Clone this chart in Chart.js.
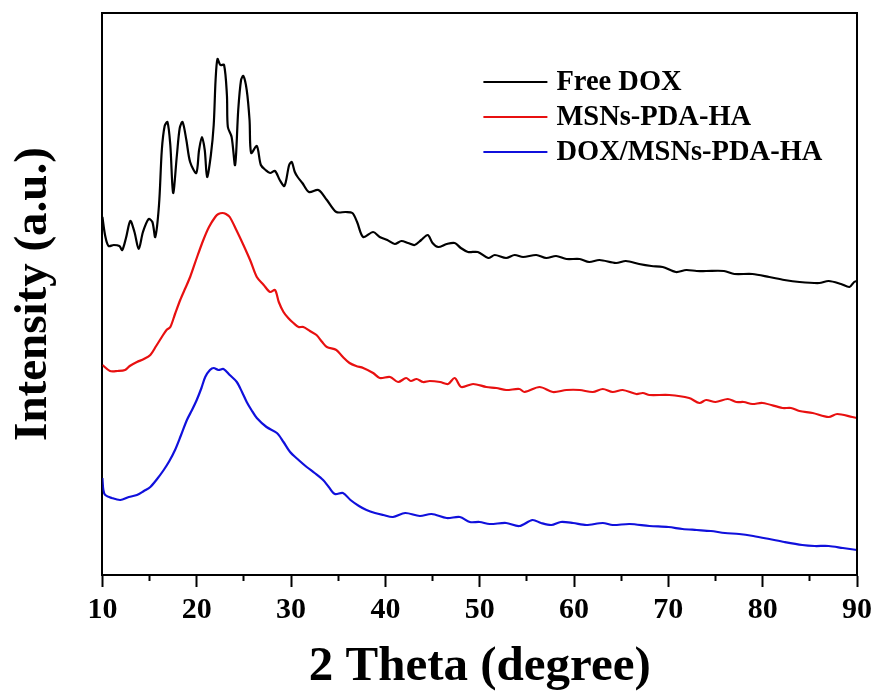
<!DOCTYPE html>
<html>
<head>
<meta charset="utf-8">
<script src="https://cdn.jsdelivr.net/npm/chart.js@4/dist/chart.umd.min.js"></script>
<style>
  html, body { margin: 0; padding: 0; background: #fff; }
  #wrap { width: 877px; height: 695px; }
</style>
</head>
<body>
<div id="wrap"><canvas id="xrd"></canvas></div>
<script>
// Free DOX
const freeDoxTheta = [10.0, 10.3, 10.65, 11.2, 11.8, 12.1, 12.5, 12.96, 13.4, 13.85, 14.3, 14.9, 15.3, 15.6, 16.0, 16.3, 16.6, 16.9, 17.2, 17.5, 17.9, 18.2, 18.5, 18.9, 19.3, 19.95, 20.25, 20.55, 20.85, 21.1, 21.5, 21.8, 22.0, 22.2, 22.5, 22.9, 23.2, 23.3, 23.7, 24.07, 24.4, 24.7, 24.95, 25.3, 25.6, 25.77, 26.37, 26.8, 27.3, 27.78, 28.3, 28.8, 29.3, 29.8, 30.07, 30.4, 30.7, 31.2, 31.9, 32.9, 33.8, 34.8, 35.8, 36.5, 37.0, 37.65, 38.7, 39.4, 40.2, 41.0, 41.7, 42.4, 43.1, 43.8, 44.5, 45.0, 45.6, 46.5, 47.35, 48.0, 48.76, 49.8, 50.9, 51.6, 52.8, 53.7, 54.6, 56.0, 57.05, 58.1, 59.2, 60.6, 61.6, 62.7, 64.45, 65.5, 66.9, 68.2, 69.4, 70.8, 71.9, 73.0, 74.0, 75.9, 77.0, 78.9, 80.7, 82.3, 83.9, 86.0, 87.0, 88.3, 89.2, 89.7, 90.0];
const freeDoxInt = [358, 339, 329, 330, 329, 325, 337, 354, 343, 326, 343, 356, 353, 338, 370, 425, 449, 453, 430, 382, 420, 447, 453, 435, 413, 402, 425, 438, 425, 398, 420, 450, 495, 516, 510, 510, 480, 448, 438, 410, 465, 495, 499, 485, 455, 422, 429, 410, 405, 402, 404, 395, 389, 410, 413, 403, 398, 392, 383, 385, 375, 363, 363, 362, 353, 338, 343, 338, 335, 331, 334, 332, 330, 335, 340, 332, 328, 331, 332, 327, 323, 323, 317, 320, 317, 320, 318, 320, 317, 319, 316, 316, 313, 315, 312, 314, 311, 309, 308, 303, 305, 304, 304, 304, 301, 301, 298, 295, 293, 292, 294, 291, 288, 293, 294];

// MSNs-PDA-HA
const msnTheta = [10.0, 10.8, 11.6, 12.4, 12.9, 13.66, 14.4, 15.08, 15.7, 16.3, 16.8, 17.2, 17.7, 18.25, 18.8, 19.3, 20.0, 20.7, 21.3, 21.96, 22.3, 22.73, 23.1, 23.5, 24.2, 24.95, 25.7, 26.37, 27.1, 27.78, 28.3, 28.7, 29.2, 29.7, 30.25, 30.8, 31.3, 32.0, 32.7, 33.3, 33.8, 34.8, 35.5, 36.2, 36.9, 37.65, 38.7, 39.4, 40.5, 41.35, 42.2, 42.7, 43.3, 44.0, 44.7, 45.8, 46.65, 47.35, 48.05, 49.3, 50.7, 51.76, 52.8, 54.2, 54.76, 56.35, 57.76, 59.2, 60.6, 62.0, 63.05, 64.1, 65.16, 66.6, 67.3, 68.0, 70.1, 72.2, 73.3, 74.0, 75.0, 76.3, 77.2, 78.0, 78.9, 80.0, 82.1, 83.0, 83.9, 85.3, 87.0, 87.9, 89.5, 90.0];
const msnInt = [210, 204, 204, 205, 209, 213, 216, 220, 229, 238, 245, 248, 261, 275, 287, 298, 317, 335, 348, 358, 361, 362, 361, 358, 345, 330, 314, 298, 290, 283, 285, 273, 263, 257, 252, 248, 248, 244, 240, 233, 228, 225, 218, 212, 209, 207, 202, 197, 198, 193, 197, 194, 196, 193, 194, 193, 191, 197, 188, 191, 188, 187, 185, 186, 183, 188, 183, 185, 185, 183, 186, 183, 185, 181, 182, 180, 180, 177, 172, 175, 173, 176, 173, 173, 171, 172, 167, 167, 164, 162, 158, 161, 158, 157];

// DOX/MSNs-PDA-HA
const loadedTheta = [10.0, 10.1, 10.3, 11.0, 11.9, 12.8, 13.66, 14.4, 15.08, 15.8, 16.5, 17.1, 17.7, 18.3, 18.96, 19.5, 20.0, 20.5, 20.9, 21.4, 21.8, 22.3, 22.84, 23.5, 24.25, 24.8, 25.3, 25.8, 26.37, 27.4, 28.5, 29.2, 29.9, 30.8, 31.66, 32.5, 33.4, 34.0, 34.65, 35.5, 36.3, 37.2, 38.0, 38.9, 39.77, 40.8, 42.1, 43.65, 44.9, 46.5, 47.9, 48.95, 50.0, 51.06, 52.8, 54.2, 55.6, 56.5, 57.6, 58.6, 59.9, 61.3, 63.05, 64.1, 65.9, 68.0, 70.0, 71.5, 73.0, 74.5, 76.0, 77.5, 79.0, 80.7, 82.3, 84.2, 85.5, 87.0, 88.5, 90.0];
const loadedInt = [97, 85, 80, 77, 75, 78, 80, 84, 88, 96, 105, 114, 125, 139, 155, 165, 175, 187, 198, 205, 207, 205, 206, 200, 193, 183, 173, 165, 157, 148, 142, 133, 123, 115, 108, 102, 95, 88, 81, 82, 75, 69, 65, 62, 60, 58, 62, 59, 61, 57, 58, 53, 53, 51, 52, 49, 55, 52, 50, 53, 52, 50, 52, 50, 51, 49, 48, 46, 45, 44, 42, 41, 39, 36, 33, 30, 29, 29, 27, 25];

const seriesNames = ['Free DOX', 'MSNs-PDA-HA', 'DOX/MSNs-PDA-HA'];
const seriesColors = ['#000000', '#e81010', '#1010dc'];

const toPoints = (xs, ys) => xs.map((x, i) => ({ x: x, y: ys[i] }));

const serif = '"Liberation Serif", "Times New Roman", serif';

// frame on top and right side of the plot
const framePlugin = {
  id: 'frame',
  afterDraw(chart) {
    const { ctx, chartArea: a } = chart;
    ctx.save();
    ctx.strokeStyle = '#000';
    ctx.lineWidth = 2;
    ctx.beginPath();
    ctx.moveTo(a.left, a.top);
    ctx.lineTo(a.right, a.top);
    ctx.lineTo(a.right, a.bottom);
    ctx.stroke();
    ctx.restore();
  }
};

// legend drawn inside the plot, top right
const insideLegend = {
  id: 'insideLegend',
  afterDraw(chart) {
    const { ctx, chartArea: a } = chart;
    const x0 = a.left + 381, y0 = a.top + 69, gap = 35;
    ctx.save();
    ctx.font = 'bold 28.5px ' + serif;
    ctx.textBaseline = 'middle';
    ctx.fillStyle = '#000';
    chart.data.datasets.forEach((ds, i) => {
      const y = y0 + i * gap;
      ctx.strokeStyle = ds.borderColor;
      ctx.lineWidth = 2;
      ctx.beginPath();
      ctx.moveTo(x0, y);
      ctx.lineTo(x0 + 64, y);
      ctx.stroke();
      ctx.fillText(ds.label, x0 + 73, y + 1);
    });
    ctx.restore();
  }
};

new Chart(document.getElementById('xrd'), {
  type: 'line',
  data: {
    datasets: [
      { label: seriesNames[0], data: toPoints(freeDoxTheta, freeDoxInt), borderColor: seriesColors[0] },
      { label: seriesNames[1], data: toPoints(msnTheta, msnInt), borderColor: seriesColors[1] },
      { label: seriesNames[2], data: toPoints(loadedTheta, loadedInt), borderColor: seriesColors[2] }
    ]
  },
  options: {
    responsive: true,
    maintainAspectRatio: false,
    animation: false,
    layout: { padding: { top: 13, right: 20, left: 0, bottom: 0 } },
    elements: {
      point: { radius: 0 },
      line: { borderWidth: 2.2, tension: 0.3, fill: false }
    },
    plugins: {
      legend: { display: false },
      tooltip: { enabled: false }
    },
    scales: {
      x: {
        type: 'linear',
        min: 10,
        max: 90,
        grid: {
          drawOnChartArea: false,
          tickLength: 12,
          tickWidth: 2,
          tickColor: '#000',
          tickBorderDash: (c) => (c.tick && c.tick.value % 10 !== 0) ? [5, 30] : []
        },
        border: { display: true, color: '#000', width: 2 },
        ticks: {
          stepSize: 5,
          autoSkip: false,
          maxRotation: 0,
          padding: 5,
          color: '#000',
          font: { family: serif, size: 30, weight: 'bold', lineHeight: 1.2 },
          callback: (v) => v % 10 === 0 ? v : ''
        },
        title: {
          display: true,
          text: '2 Theta (degree)',
          color: '#000',
          font: { family: serif, size: 49, weight: 'bold', lineHeight: 1.0 },
          padding: { top: 10, bottom: 3 }
        }
      },
      y: {
        min: 0,
        max: 562,
        grid: { display: false },
        border: { display: true, color: '#000', width: 2 },
        ticks: { display: false },
        title: {
          display: true,
          text: 'Intensity (a.u.)',
          color: '#000',
          font: { family: serif, size: 47, weight: 'bold', lineHeight: 1.2 },
          padding: { top: 6, bottom: 32 }
        }
      }
    }
  },
  plugins: [framePlugin, insideLegend]
});
</script>
</body>
</html>
